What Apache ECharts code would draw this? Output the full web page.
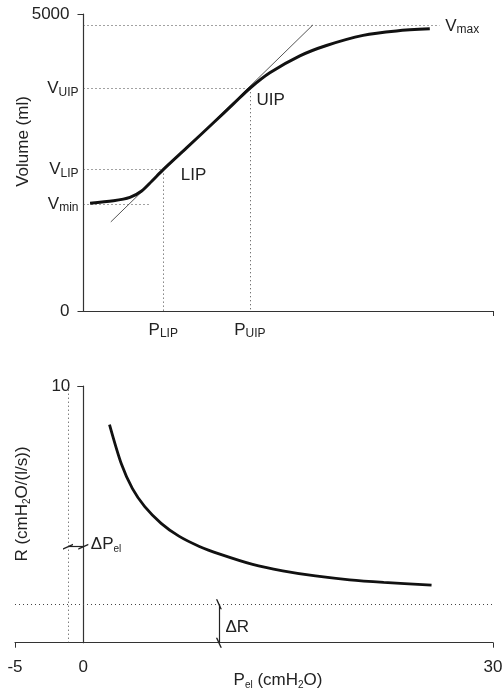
<!DOCTYPE html>
<html><head><meta charset="utf-8">
<script src="https://cdn.jsdelivr.net/npm/echarts@6/dist/echarts.min.js"></script>
<style>html,body{margin:0;padding:0;background:#fff}#c{width:503px;height:693px}</style>
</head><body><div id="c"></div>
<script>
// ---------- Top panel: pressure-volume curve ----------
const volP = [0.48, 2.2, 3.4, 4.26, 5.0, 5.84, 7.55, 9.5, 11.0, 12.19, 13.65, 15.85, 17.8, 20.48, 22.93, 25.37];
const volV = [1815, 1855, 1912, 2020, 2185, 2380, 2745, 3165, 3490, 3750, 4010, 4295, 4470, 4640, 4715, 4750];
const tangentP = [2.0, 16.8];
const tangentV = [1500, 4815];
const P_LIP = 5.84, V_LIP = 2380;
const P_UIP = 12.19, V_UIP = 3750;
const V_MIN = 1800, P_VMIN_END = 4.8;
const V_MAX = 4815, P_VMAX_END = 26.1;
const volTickValues = [0, 5000];
const volLabelValues = [0, V_MIN, V_LIP, V_UIP, 5000];
const topXLabelValues = [P_LIP, P_UIP];
const topXTickValues = [30];

// ---------- Bottom panel: resistance vs elastic pressure ----------
const resP = [1.92, 2.8, 3.6, 4.5, 5.7, 7.0, 8.5, 10.0, 12.4, 14.6, 17.0, 19.5, 22.0, 25.5];
const resR = [8.50, 6.95, 6.00, 5.30, 4.65, 4.15, 3.75, 3.45, 3.05, 2.80, 2.60, 2.45, 2.35, 2.24];
const R_BASE = 1.5;
const P_SHIFT = -1.12;
const DP_LEVEL = 3.74;
const DR_P = 9.93;
const DR_LABEL_R = 0.6;
const botXLabelValues = [-5, 0, 30];
const botXTickValues = [-5, 30];
const botYValues = [10];

const F = '"Liberation Sans", Arial, sans-serif';
const C = '#222';
const AX = '#333';
const rich = {
  m: {fontSize: 17, lineHeight: 20, fontFamily: F, color: C},
  n: {fontSize: 17, lineHeight: 20, fontFamily: F, color: C, padding: [0, 9, 0, 0]},
  s: {fontSize: 12, lineHeight: 12, verticalAlign: 'bottom', fontFamily: F, color: C},
  t: {fontSize: 10, lineHeight: 10, verticalAlign: 'bottom', fontFamily: F, color: C}
};
function near(a, b) { return Math.abs(a - b) < 1e-6; }
function volLabel(v) {
  if (near(v, 0)) return '{n|0}';
  if (near(v, 5000)) return '{n|5000}';
  if (near(v, V_MIN)) return '{m|V}{s|min}';
  if (near(v, V_LIP)) return '{m|V}{s|LIP}';
  if (near(v, V_UIP)) return '{m|V}{s|UIP}';
  return '';
}
function topXLabel(v) {
  if (near(v, P_LIP)) return '{m|P}{s|LIP}';
  if (near(v, P_UIP)) return '{m|P}{s|UIP}';
  return '';
}
const zip = (a, b) => a.map((x, i) => [x, b[i]]);
const dotted = {type: [1, 3], color: '#444', width: 1};
const slash = 'path://M0,0 L2,0 L8,14 L6,14 Z';
const lbl = (extra) => Object.assign({show: true, position: 'right', rich: rich, color: C, opacity: 1, textBorderWidth: 0}, extra);

const W = 503, GL = 15, GR = 10;
const pxPerUnit = (W - GL - GR) / 35;

const chart = echarts.init(document.getElementById('c'));
chart.setOption({
  animation: false,
  backgroundColor: '#fff',
  textStyle: {fontFamily: F, color: C},
  grid: [
    {left: 83.5, right: GR, top: 14, bottom: 382, outerBoundsMode: 'none', containLabel: false},
    {left: GL, right: GR, top: 386, bottom: 50.3, outerBoundsMode: 'none', containLabel: false}
  ],
  xAxis: [
    {gridIndex: 0, type: 'value', min: 0, max: 30,
     splitLine: {show: false},
     axisLine: {onZero: false, lineStyle: {color: AX, width: 1.2}},
     axisTick: {customValues: topXTickValues, length: 5, lineStyle: {color: AX}},
     axisLabel: {customValues: topXLabelValues, formatter: topXLabel, rich: rich, margin: 9, fontSize: 17, color: C}},
    {gridIndex: 1, type: 'value', min: -5, max: 30,
     splitLine: {show: false},
     axisLine: {onZero: false, lineStyle: {color: AX, width: 1.2}},
     axisTick: {customValues: botXTickValues, length: 5, lineStyle: {color: AX}},
     axisLabel: {customValues: botXLabelValues, fontSize: 17, color: C, fontFamily: F, margin: 16}}
  ],
  yAxis: [
    {gridIndex: 0, type: 'value', min: 0, max: 5000,
     splitLine: {show: false},
     axisLine: {show: true, onZero: false, lineStyle: {color: AX, width: 1.2}},
     axisTick: {show: true, customValues: volTickValues, length: 6, lineStyle: {color: AX}},
     axisLabel: {customValues: volLabelValues, formatter: volLabel, rich: rich, margin: 5, fontSize: 17, color: C}},
    {gridIndex: 1, type: 'value', min: 0, max: 10, offset: -5 * pxPerUnit,
     splitLine: {show: false},
     axisLine: {show: true, onZero: false, lineStyle: {color: AX, width: 1.2}},
     axisTick: {show: true, customValues: botYValues, length: 6, lineStyle: {color: AX}},
     axisLabel: {customValues: botYValues, fontSize: 17, color: C, fontFamily: F, margin: 13}}
  ],
  series: [
    {type: 'line', xAxisIndex: 0, yAxisIndex: 0, data: zip(volP, volV),
     smooth: 0.3, symbol: 'none',
     lineStyle: {color: '#111', width: 3}, z: 5,
     markLine: {silent: true, symbol: 'none', label: {show: false}, lineStyle: dotted,
       data: [
         [{coord: [0, V_MAX]}, {coord: [P_VMAX_END, V_MAX]}],
         [{coord: [0, V_UIP]}, {coord: [P_UIP, V_UIP]}],
         [{coord: [P_UIP, V_UIP]}, {coord: [P_UIP, 0]}],
         [{coord: [0, V_LIP]}, {coord: [P_LIP, V_LIP]}],
         [{coord: [P_LIP, V_LIP]}, {coord: [P_LIP, 0]}],
         [{coord: [0, V_MIN]}, {coord: [P_VMIN_END, V_MIN]}]
       ]}},
    {type: 'line', xAxisIndex: 0, yAxisIndex: 0, data: zip(tangentP, tangentV),
     symbol: 'none', lineStyle: {color: '#555', width: 1}, z: 4},
    {type: 'scatter', xAxisIndex: 0, yAxisIndex: 0, symbolSize: 1,
     itemStyle: {color: 'transparent', opacity: 1},
     data: [
       {value: [P_LIP, V_LIP], label: lbl({distance: 17, offset: [0, 6], formatter: '{m|LIP}'})},
       {value: [P_UIP, V_UIP], label: lbl({distance: 6, offset: [0, 12], formatter: '{m|UIP}'})},
       {value: [P_VMAX_END, V_MAX], label: lbl({distance: 5, offset: [0, 1], formatter: '{m|V}{s|max}'})}
     ]},
    {type: 'line', xAxisIndex: 1, yAxisIndex: 1, data: zip(resP, resR),
     smooth: 0.3, symbol: 'none',
     lineStyle: {color: '#111', width: 2.8}, z: 5,
     markLine: {silent: true, symbol: 'none', label: {show: false}, lineStyle: dotted,
       data: [
         [{coord: [-5, R_BASE]}, {coord: [30, R_BASE]}],
         [{coord: [P_SHIFT, 0]}, {coord: [P_SHIFT, 10]}]
       ]}},
    {type: 'scatter', xAxisIndex: 1, yAxisIndex: 1, symbolSize: 1,
     itemStyle: {color: 'transparent', opacity: 1},
     data: [
       {value: [0, DP_LEVEL], label: lbl({distance: 7, offset: [0, -2], formatter: '{m|ΔP}{t|el}'})},
       {value: [DR_P, DR_LABEL_R], label: lbl({distance: 6, offset: [0, 0], formatter: '{m|ΔR}'})}
     ],
     markLine: {silent: true, symbol: [slash, slash], symbolSize: [6, 10], label: {show: false},
       lineStyle: {type: 'solid', color: '#222', width: 1.2},
       data: [
         [{coord: [P_SHIFT, DP_LEVEL]}, {coord: [0, DP_LEVEL]}],
         [{coord: [DR_P, 0]}, {coord: [DR_P, R_BASE]}]
       ]}}
  ],
  graphic: [
    {type: 'text', x: 23, y: 141.5, rotation: Math.PI / 2,
     style: {text: 'Volume (ml)', fontSize: 17, fontFamily: F, fill: C, align: 'center', verticalAlign: 'middle'}},
    {type: 'text', x: 22, y: 504, rotation: Math.PI / 2,
     style: {text: '{m|R (cmH}{t|2}{m|O/(l/s))}', rich: rich, fontSize: 17, fontFamily: F, fill: C, align: 'center', verticalAlign: 'middle'}},
    {type: 'text', x: 278, y: 680,
     style: {text: '{m|P}{t|el}{m| (cmH}{t|2}{m|O)}', rich: rich, fontSize: 17, fontFamily: F, fill: C, align: 'center', verticalAlign: 'middle'}}
  ]
});
</script></body></html>
